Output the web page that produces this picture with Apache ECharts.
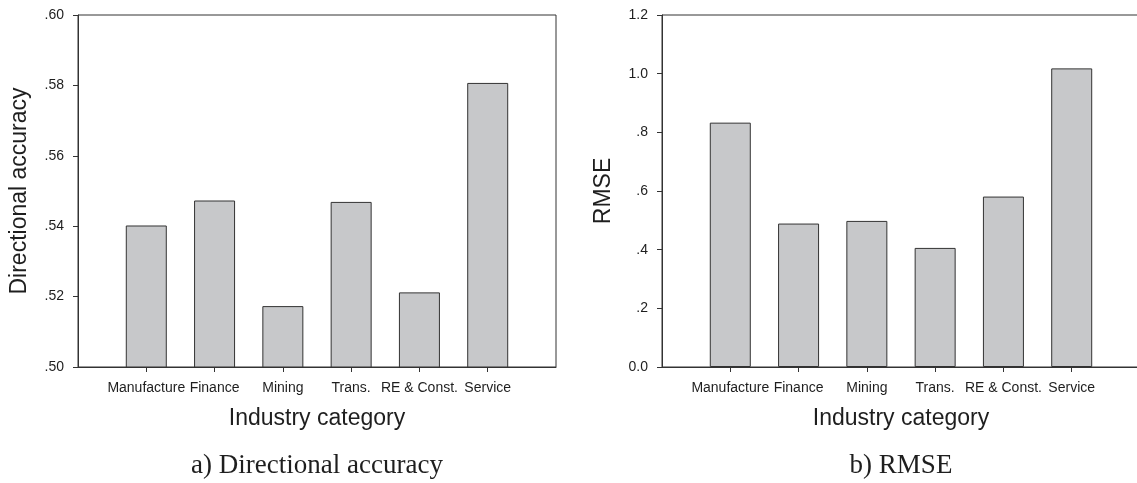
<!DOCTYPE html>
<html>
<head>
<meta charset="utf-8">
<script src="https://cdn.jsdelivr.net/npm/echarts@6/dist/echarts.min.js"></script>
<style>
html,body{margin:0;padding:0;background:#fff;}
#c{width:1137px;height:483px;}
</style>
</head>
<body>
<div id="c"></div>
<script>
const categories = ['Manufacture', 'Finance', 'Mining', 'Trans.', 'RE & Const.', 'Service'];
const accuracyValues = [0.5402, 0.5473, 0.5173, 0.5469, 0.5212, 0.5807];
const rmseValues = [0.833, 0.489, 0.498, 0.406, 0.581, 1.018];
const accuracyTicks = [0.50, 0.52, 0.54, 0.56, 0.58, 0.60];
const accuracyTickLabels = ['.50', '.52', '.54', '.56', '.58', '.60'];
const rmseTicks = [0.0, 0.2, 0.4, 0.6, 0.8, 1.0, 1.2];
const rmseTickLabels = ['0.0', '.2', '.4', '.6', '.8', '1.0', '1.2'];

const SANS = "'Liberation Sans', Arial, sans-serif";
const SERIF = "'Liberation Serif', 'Times New Roman', serif";
const AX = '#333';
const TXT = '#1e1e1e';

const axisData = [''].concat(categories, ['']);
const nCat = axisData.length;

function labelFor(ticks, labels) {
  return function (v) {
    let best = 0, bd = Infinity;
    ticks.forEach((t, i) => { const d = Math.abs(t - v); if (d < bd) { bd = d; best = i; } });
    return labels[best];
  };
}

function xAxisCfg(gi) {
  return {
    type: 'category', gridIndex: gi, data: axisData, boundaryGap: false,
    axisLine: { show: true, lineStyle: { color: AX, width: 1 } },
    axisTick: { show: true, length: 5, lineStyle: { color: AX }, interval: (i) => i > 0 && i < nCat - 1 },
    axisLabel: { interval: 0, margin: 14, fontSize: 14, fontFamily: SANS, color: TXT },
    splitLine: { show: false },
    name: 'Industry category', nameLocation: 'middle', nameGap: 40,
    nameTextStyle: { fontSize: 23, fontFamily: SANS, color: TXT }
  };
}

function yAxisCfg(gi, min, max, interval, ticks, labels, name) {
  return {
    type: 'value', gridIndex: gi, min: min, max: max, interval: interval,
    axisLine: { show: true, lineStyle: { color: AX, width: 1 } },
    axisTick: { show: true, length: 5, lineStyle: { color: AX } },
    axisLabel: { margin: 14, fontSize: 14, fontFamily: SANS, color: TXT, formatter: labelFor(ticks, labels) },
    splitLine: { show: false },
    name: name, nameLocation: 'middle', nameRotate: 90, nameGap: 47,
    nameTextStyle: { fontSize: 23, fontFamily: SANS, color: TXT }
  };
}

function barSeries(gi, vals) {
  return {
    type: 'bar', xAxisIndex: gi, yAxisIndex: gi,
    data: [null].concat(vals, [null]),
    barWidth: 41,
    itemStyle: { color: '#c7c8ca', borderColor: '#333', borderWidth: 1 },
    silent: true, animation: false
  };
}

const chart = echarts.init(document.getElementById('c'));
chart.setOption({
  animation: false,
  backgroundColor: '#fff',
  title: [
    { text: 'a) Directional accuracy', left: 317, top: 452, textAlign: 'center', padding: 0,
      textStyle: { fontFamily: SERIF, fontSize: 27, fontWeight: 'normal', color: TXT } },
    { text: 'b) RMSE', left: 901, top: 452, textAlign: 'center', padding: 0,
      textStyle: { fontFamily: SERIF, fontSize: 27, fontWeight: 'normal', color: TXT } }
  ],
  grid: [
    { left: 78, top: 15, width: 478, height: 352, show: true, borderColor: AX, borderWidth: 1, backgroundColor: 'transparent', containLabel: false, outerBoundsMode: 'none' },
    { left: 662, top: 15, width: 478, height: 352, show: true, borderColor: AX, borderWidth: 1, backgroundColor: 'transparent', containLabel: false, outerBoundsMode: 'none' }
  ],
  xAxis: [xAxisCfg(0), xAxisCfg(1)],
  yAxis: [
    yAxisCfg(0, 0.50, 0.60, 0.02, accuracyTicks, accuracyTickLabels, 'Directional accuracy'),
    yAxisCfg(1, 0, 1.2, 0.2, rmseTicks, rmseTickLabels, 'RMSE')
  ],
  series: [barSeries(0, accuracyValues), barSeries(1, rmseValues)]
});
</script>
</body>
</html>
